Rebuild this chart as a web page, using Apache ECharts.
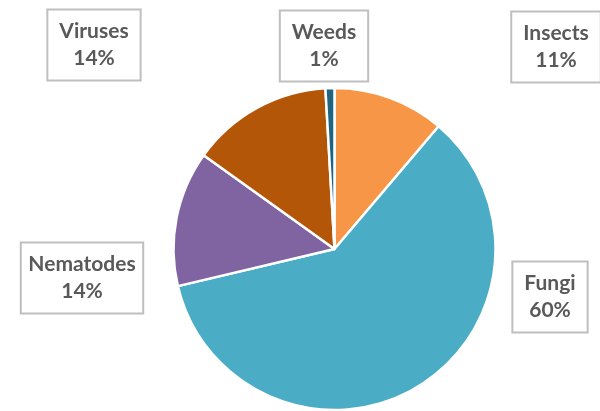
<!DOCTYPE html>
<html>
<head>
<meta charset="utf-8">
<script src="https://cdn.jsdelivr.net/npm/echarts@6/dist/echarts.min.js"></script>
<style>
  html, body { margin: 0; padding: 0; background: #fff; }
  #chart-container { width: 600px; height: 411px; }
</style>
</head>
<body>
<div id="chart-container"></div>
<script>
var names = ['Insects', 'Fungi', 'Nematodes', 'Viruses', 'Weeds'];
var values = [11.2, 60.1, 13.6, 14.2, 0.9];
var colors = ['#F79646', '#4BACC6', '#8064A2', '#B45608', '#1F6480'];

// label box centres (px)
var labelPos = [
  [556, 47],
  [550, 297],
  [82, 278],
  [94, 45],
  [324, 46]
];

var dom = document.getElementById('chart-container');
var myChart = echarts.init(dom);

var pieData = names.map(function (n, i) {
  return { name: n, value: values[i], itemStyle: { color: colors[i] } };
});

myChart.setOption({
  backgroundColor: '#fff',
  animation: false,
  series: [
    {
      type: 'pie',
      center: [334.5, 249],
      radius: [0, 161],
      startAngle: 90,
      clockwise: true,
      data: pieData,
      itemStyle: {
        borderColor: '#fff',
        borderWidth: 2.5
      },
      label: {
        show: true,
        position: 'outside',
        overflow: 'none',
        formatter: function (p) {
          return p.name + '\n' + Math.round(p.percent) + '%';
        },
        fontFamily: 'Lato',
        fontWeight: 'bold',
        fontSize: 21,
        lineHeight: 27,
        color: '#595959',
        align: 'center',
        backgroundColor: '#fff',
        borderColor: '#BFBFBF',
        borderWidth: 2,
        padding: [8, 11, 7, 11]
      },
      labelLine: { show: false },
      labelLayout: function (params) {
        var pos = labelPos[params.dataIndex];
        return {
          x: pos[0],
          y: pos[1],
          align: 'center',
          verticalAlign: 'middle',
          hideOverlap: false
        };
      },
      emphasis: { disabled: true }
    }
  ]
});

window.addEventListener('resize', myChart.resize);
</script>
</body>
</html>
